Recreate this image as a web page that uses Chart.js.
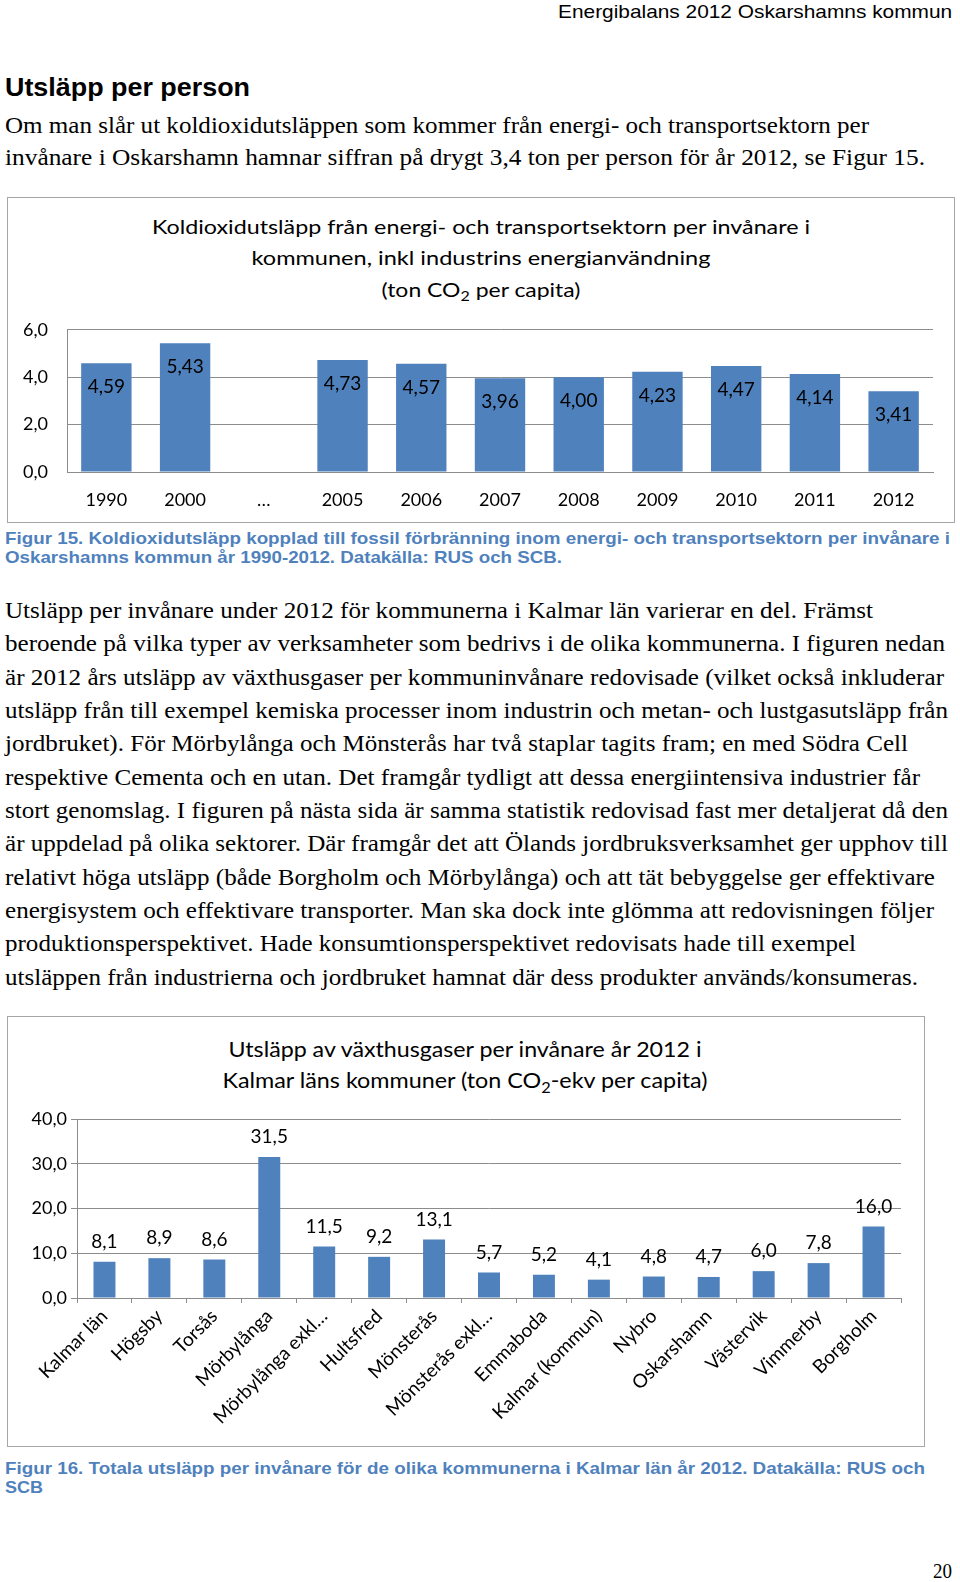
<!DOCTYPE html>
<html>
<head>
<meta charset="utf-8">
<script src="https://cdn.jsdelivr.net/npm/chart.js@4.4.1/dist/chart.umd.min.js"></script>
<style>
  html, body { margin: 0; padding: 0; background: #fff; }
  body { position: relative; width: 960px; height: 1582px; overflow: hidden; color: #000; }
  .t { position: absolute; white-space: nowrap; line-height: 1.15; display: inline-block; }
  .serif { font-family: "Liberation Serif", "Times New Roman", serif; font-size: 23px; }
  .sans { font-family: "Liberation Sans", Arial, sans-serif; }
  .cap { font-family: "Liberation Sans", Arial, sans-serif; font-weight: bold; font-size: 17px; color: #4F81BD; }
  .ctitle { font-family: Lato, "Open Sans", sans-serif; color: #000; }
  .ctitle sub { font-size: 0.7em; vertical-align: -0.3em; line-height: 0; }
  .frame { position: absolute; border: 1px solid #a6a6a6; box-sizing: border-box; }
  .box { position: absolute; }
</style>
</head>
<body>

<!-- page header and text -->
<div class="t sans" style="right:8px; top:12px; font-size:19px;" data-w="394" data-o="right">Energibalans 2012 Oskarshamns kommun</div>
<div class="t sans" style="left:5px; top:88px; font-size:26px; font-weight:bold;" data-w="245">Utsläpp per person</div>

<div class="t serif" style="left:5px; top:126px;" data-w="864">Om man slår ut koldioxidutsläppen som kommer från energi- och transportsektorn per</div>
<div class="t serif" style="left:5px; top:158px;" data-w="920">invånare i Oskarshamn hamnar siffran på drygt 3,4 ton per person för år 2012, se Figur 15.</div>

<!-- figure 15 -->
<div class="frame" style="left:7px; top:197px; width:948px; height:326px;"></div>
<div class="t ctitle" style="left:481px; top:226px; font-size:20px;" data-w="658" data-o="center">Koldioxidutsläpp från energi- och transportsektorn per invånare i</div>
<div class="t ctitle" style="left:481px; top:257px; font-size:20px;" data-w="459" data-o="center">kommunen, inkl industrins energianvändning</div>
<div class="t ctitle" style="left:481px; top:289px; font-size:20px;" data-w="199" data-o="center">(ton CO<sub>2</sub> per capita)</div>
<div class="box" style="left:8px; top:300px; width:946px; height:222px;"><canvas id="chart1"></canvas></div>

<div class="t cap" style="left:5px; top:539px;" data-w="945">Figur 15. Koldioxidutsläpp kopplad till fossil förbränning inom energi- och transportsektorn per invånare i</div>
<div class="t cap" style="left:5px; top:558px;" data-w="557">Oskarshamns kommun år 1990-2012. Datakälla: RUS och SCB.</div>

<div class="t serif" style="left:5px; top:611px;" data-w="868">Utsläpp per invånare under 2012 för kommunerna i Kalmar län varierar en del. Främst</div>
<div class="t serif" style="left:5px; top:644px;" data-w="940">beroende på vilka typer av verksamheter som bedrivs i de olika kommunerna. I figuren nedan</div>
<div class="t serif" style="left:5px; top:678px;" data-w="939">är 2012 års utsläpp av växthusgaser per kommuninvånare redovisade (vilket också inkluderar</div>
<div class="t serif" style="left:5px; top:711px;" data-w="943">utsläpp från till exempel kemiska processer inom industrin och metan- och lustgasutsläpp från</div>
<div class="t serif" style="left:5px; top:744px;" data-w="903">jordbruket). För Mörbylånga och Mönsterås har två staplar tagits fram; en med Södra Cell</div>
<div class="t serif" style="left:5px; top:778px;" data-w="915">respektive Cementa och en utan. Det framgår tydligt att dessa energiintensiva industrier får</div>
<div class="t serif" style="left:5px; top:811px;" data-w="943">stort genomslag. I figuren på nästa sida är samma statistik redovisad fast mer detaljerat då den</div>
<div class="t serif" style="left:5px; top:844px;" data-w="943">är uppdelad på olika sektorer. Där framgår det att Ölands jordbruksverksamhet ger upphov till</div>
<div class="t serif" style="left:5px; top:878px;" data-w="930">relativt höga utsläpp (både Borgholm och Mörbylånga) och att tät bebyggelse ger effektivare</div>
<div class="t serif" style="left:5px; top:911px;" data-w="929">energisystem och effektivare transporter. Man ska dock inte glömma att redovisningen följer</div>
<div class="t serif" style="left:5px; top:944px;" data-w="851">produktionsperspektivet. Hade konsumtionsperspektivet redovisats hade till exempel</div>
<div class="t serif" style="left:5px; top:978px;" data-w="913">utsläppen från industrierna och jordbruket hamnat där dess produkter används/konsumeras.</div>

<!-- figure 16 -->
<div class="frame" style="left:7px; top:1016px; width:918px; height:431px;"></div>
<div class="t ctitle" style="left:465px; top:1049px; font-size:22px;" data-w="473" data-o="center">Utsläpp av växthusgaser per invånare år 2012 i</div>
<div class="t ctitle" style="left:465px; top:1080px; font-size:22px;" data-w="485" data-o="center">Kalmar läns kommuner (ton CO<sub>2</sub>-ekv per capita)</div>
<div class="box" style="left:8px; top:1090px; width:915px; height:357px;"><canvas id="chart2"></canvas></div>

<div class="t cap" style="left:5px; top:1469px;" data-w="920">Figur 16. Totala utsläpp per invånare för de olika kommunerna i Kalmar län år 2012. Datakälla: RUS och</div>
<div class="t cap" style="left:5px; top:1488px;" data-w="38">SCB</div>

<div class="t serif" style="right:8px; top:1571px; font-size:22px;" data-w="19" data-o="right">20</div>

<script>
// Figur 15: CO2 per invånare, Oskarshamn
const years = ['1990', '2000', '…', '2005', '2006', '2007', '2008', '2009', '2010', '2011', '2012'];
const perCapita = [4.59, 5.43, null, 4.73, 4.57, 3.96, 4.00, 4.23, 4.47, 4.14, 3.41];

// Figur 16: växthusgaser per invånare, Kalmar läns kommuner 2012
const kommuner = ['Kalmar län', 'Högsby', 'Torsås', 'Mörbylånga', 'Mörbylånga exkl…', 'Hultsfred',
    'Mönsterås', 'Mönsterås exkl…', 'Emmaboda', 'Kalmar (kommun)', 'Nybro', 'Oskarshamn',
    'Västervik', 'Vimmerby', 'Borgholm'];
const ghgPerCapita = [8.1, 8.9, 8.6, 31.5, 11.5, 9.2, 13.1, 5.7, 5.2, 4.1, 4.8, 4.7, 6.0, 7.8, 16.0];

const yMax1 = 6, yStep1 = 2;
const yMax2 = 40, yStep2 = 10;

const barColor = '#4F81BD';
const gridColor = '#8c8c8c';
const fontFamily = 'Lato, "Open Sans", sans-serif';

Chart.defaults.font.family = fontFamily;
Chart.defaults.color = '#000';

function sv(v, d) {
    return v.toFixed(d).replace('.', ',');
}

// value labels drawn at the bars (no datalabels plugin available)
const valueLabels = {
    id: 'valueLabels',
    afterDatasetsDraw(chart, args, opts) {
        const ctx = chart.ctx;
        const values = chart.data.datasets[0].data;
        ctx.save();
        ctx.font = opts.size + 'px ' + fontFamily;
        ctx.fillStyle = '#000';
        ctx.textAlign = 'center';
        ctx.textBaseline = 'middle';
        chart.getDatasetMeta(0).data.forEach(function (bar, i) {
            if (values[i] == null) return;
            ctx.fillText(sv(values[i], opts.digits), bar.x, bar.y + opts.offset);
        });
        ctx.restore();
    }
};

new Chart(document.getElementById('chart1'), {
    type: 'bar',
    data: {
        labels: years,
        datasets: [{
            data: perCapita,
            backgroundColor: barColor,
            barPercentage: 0.64,
            categoryPercentage: 1
        }]
    },
    options: {
        responsive: true,
        maintainAspectRatio: false,
        animation: false,
        layout: { padding: { top: 29, right: 21, left: 0, bottom: 0 } },
        plugins: {
            legend: { display: false },
            tooltip: { enabled: false },
            valueLabels: { size: 19, digits: 2, offset: 24 }
        },
        scales: {
            x: {
                grid: { display: false, drawTicks: false },
                border: { display: true, color: gridColor },
                ticks: { font: { size: 18 }, padding: 17, maxRotation: 0, autoSkip: false },
                afterFit: function (s) { s.height = 50; }
            },
            y: {
                min: 0, max: yMax1,
                grid: { color: gridColor, drawTicks: false },
                border: { display: true, color: gridColor },
                ticks: { stepSize: yStep1, font: { size: 18 }, padding: 19, callback: v => sv(v, 1) },
                afterFit: function (s) { s.width = 59; }
            }
        }
    },
    plugins: [valueLabels]
});

new Chart(document.getElementById('chart2'), {
    type: 'bar',
    data: {
        labels: kommuner,
        datasets: [{
            data: ghgPerCapita,
            backgroundColor: barColor,
            barPercentage: 0.4,
            categoryPercentage: 1
        }]
    },
    options: {
        responsive: true,
        maintainAspectRatio: false,
        animation: false,
        layout: { padding: { top: 29, right: 22, left: 0, bottom: 0 } },
        plugins: {
            legend: { display: false },
            tooltip: { enabled: false },
            valueLabels: { size: 19, digits: 1, offset: -20 }
        },
        scales: {
            x: {
                grid: { drawOnChartArea: false, drawTicks: true, tickLength: 5, color: gridColor },
                border: { display: true, color: gridColor },
                ticks: { font: { size: 19 }, padding: 2, minRotation: 45, maxRotation: 45, autoSkip: false },
                afterFit: function (s) { s.height = 149; }
            },
            y: {
                min: 0, max: yMax2,
                grid: { color: gridColor, drawTicks: true, tickLength: 6 },
                border: { display: true, color: gridColor },
                ticks: { stepSize: yStep2, font: { size: 18 }, padding: 4, callback: v => sv(v, 1) },
                afterFit: function (s) { s.width = 69; }
            }
        }
    },
    plugins: [valueLabels]
});

// stretch each text line to the width it has on the page
document.fonts.ready.then(function () {
    document.querySelectorAll('[data-w]').forEach(function (el) {
        const w = el.getBoundingClientRect().width;
        const k = Number(el.dataset.w) / w;
        const o = el.dataset.o || 'left';
        el.style.transformOrigin = o + ' center';
        if (o === 'center') {
            el.style.transform = 'translate(-50%, -50%) scaleX(' + k + ')';
        } else {
            el.style.transform = 'translateY(-50%) scaleX(' + k + ')';
        }
    });
});
</script>
</body>
</html>
